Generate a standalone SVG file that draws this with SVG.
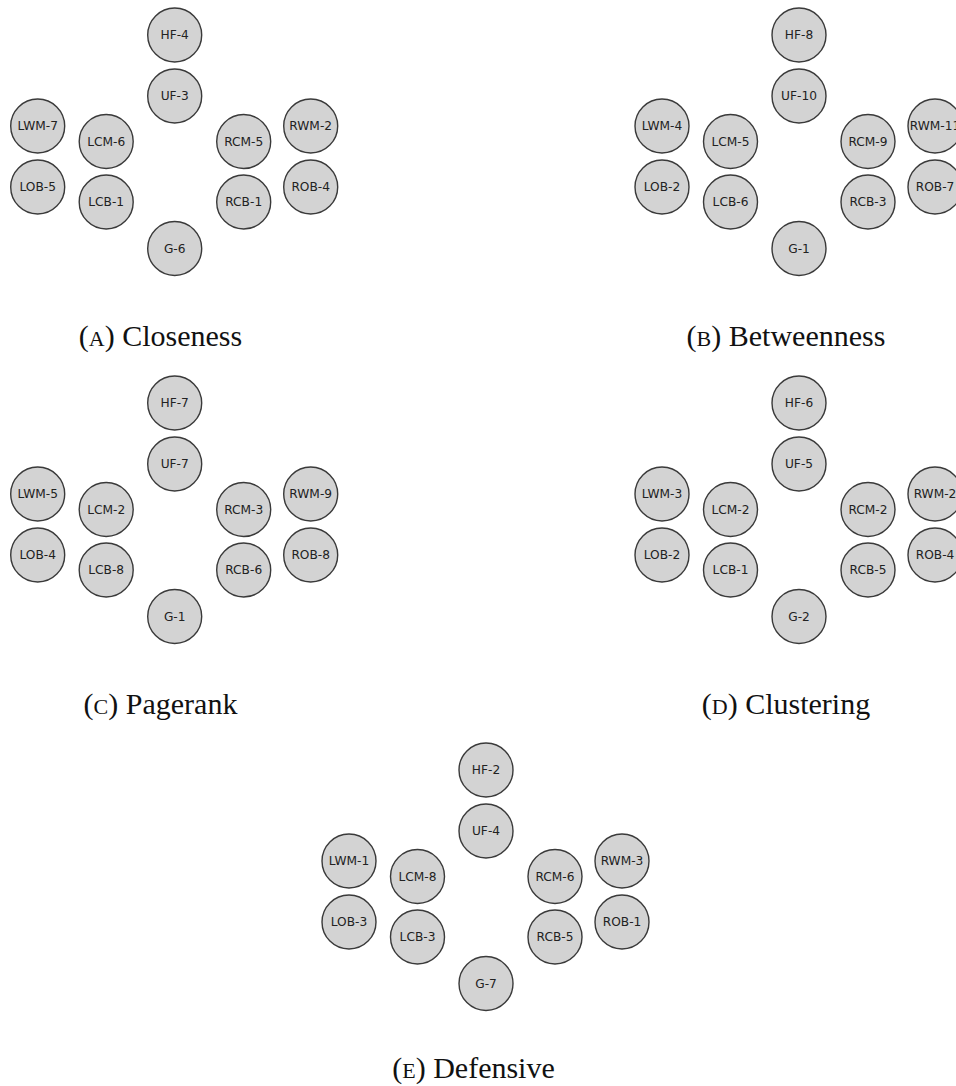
<svg xmlns="http://www.w3.org/2000/svg" width="956" height="1086" viewBox="0 0 956 1086">
<style>
.n circle{fill:#d3d3d3;stroke:#3a3a3a;stroke-width:1.4}
.n text{font-family:"DejaVu Sans",sans-serif;font-size:12.2px;fill:#222;text-anchor:middle}
.cap{font-family:"Liberation Serif",serif;font-size:30px;fill:#111;text-anchor:middle}
.sc{font-size:22px}
</style>
<rect width="956" height="1086" fill="#fff"/>
<g id="connectors"/>
<!-- Panel A -->
<g id="panel-a" transform="translate(174.7,35)">
<g id="a-HF" class="n"><circle cx="0" cy="0" r="27"/><text x="0" y="4.4">HF-4</text></g>
<g id="a-UF" class="n"><circle cx="0" cy="61" r="27"/><text x="0" y="65.4">UF-3</text></g>
<g id="a-LWM" class="n"><circle cx="-137" cy="91" r="27"/><text x="-137" y="95.4">LWM-7</text></g>
<g id="a-LCM" class="n"><circle cx="-68.5" cy="106.5" r="27"/><text x="-68.5" y="110.9">LCM-6</text></g>
<g id="a-RCM" class="n"><circle cx="69" cy="106.5" r="27"/><text x="69" y="110.9">RCM-5</text></g>
<g id="a-RWM" class="n"><circle cx="136" cy="91" r="27"/><text x="136" y="95.4">RWM-2</text></g>
<g id="a-LOB" class="n"><circle cx="-137" cy="152" r="27"/><text x="-137" y="156.4">LOB-5</text></g>
<g id="a-LCB" class="n"><circle cx="-68.5" cy="167" r="27"/><text x="-68.5" y="171.4">LCB-1</text></g>
<g id="a-RCB" class="n"><circle cx="69" cy="167" r="27"/><text x="69" y="171.4">RCB-1</text></g>
<g id="a-ROB" class="n"><circle cx="136" cy="152" r="27"/><text x="136" y="156.4">ROB-4</text></g>
<g id="a-G" class="n"><circle cx="0" cy="213.5" r="27"/><text x="0" y="217.9">G-6</text></g>
</g>
<text id="cap-a" class="cap" x="160.5" y="346">(<tspan class="sc">A</tspan>) Closeness</text>
<!-- Panel B -->
<g id="panel-b" transform="translate(799,35)">
<g id="b-HF" class="n"><circle cx="0" cy="0" r="27"/><text x="0" y="4.4">HF-8</text></g>
<g id="b-UF" class="n"><circle cx="0" cy="61" r="27"/><text x="0" y="65.4">UF-10</text></g>
<g id="b-LWM" class="n"><circle cx="-137" cy="91" r="27"/><text x="-137" y="95.4">LWM-4</text></g>
<g id="b-LCM" class="n"><circle cx="-68.5" cy="106.5" r="27"/><text x="-68.5" y="110.9">LCM-5</text></g>
<g id="b-RCM" class="n"><circle cx="69" cy="106.5" r="27"/><text x="69" y="110.9">RCM-9</text></g>
<g id="b-RWM" class="n"><circle cx="136" cy="91" r="27"/><text x="136" y="95.4">RWM-11</text></g>
<g id="b-LOB" class="n"><circle cx="-137" cy="152" r="27"/><text x="-137" y="156.4">LOB-2</text></g>
<g id="b-LCB" class="n"><circle cx="-68.5" cy="167" r="27"/><text x="-68.5" y="171.4">LCB-6</text></g>
<g id="b-RCB" class="n"><circle cx="69" cy="167" r="27"/><text x="69" y="171.4">RCB-3</text></g>
<g id="b-ROB" class="n"><circle cx="136" cy="152" r="27"/><text x="136" y="156.4">ROB-7</text></g>
<g id="b-G" class="n"><circle cx="0" cy="213.5" r="27"/><text x="0" y="217.9">G-1</text></g>
</g>
<text id="cap-b" class="cap" x="786" y="346">(<tspan class="sc">B</tspan>) Betweenness</text>
<!-- Panel C -->
<g id="panel-c" transform="translate(174.7,403)">
<g id="c-HF" class="n"><circle cx="0" cy="0" r="27"/><text x="0" y="4.4">HF-7</text></g>
<g id="c-UF" class="n"><circle cx="0" cy="61" r="27"/><text x="0" y="65.4">UF-7</text></g>
<g id="c-LWM" class="n"><circle cx="-137" cy="91" r="27"/><text x="-137" y="95.4">LWM-5</text></g>
<g id="c-LCM" class="n"><circle cx="-68.5" cy="106.5" r="27"/><text x="-68.5" y="110.9">LCM-2</text></g>
<g id="c-RCM" class="n"><circle cx="69" cy="106.5" r="27"/><text x="69" y="110.9">RCM-3</text></g>
<g id="c-RWM" class="n"><circle cx="136" cy="91" r="27"/><text x="136" y="95.4">RWM-9</text></g>
<g id="c-LOB" class="n"><circle cx="-137" cy="152" r="27"/><text x="-137" y="156.4">LOB-4</text></g>
<g id="c-LCB" class="n"><circle cx="-68.5" cy="167" r="27"/><text x="-68.5" y="171.4">LCB-8</text></g>
<g id="c-RCB" class="n"><circle cx="69" cy="167" r="27"/><text x="69" y="171.4">RCB-6</text></g>
<g id="c-ROB" class="n"><circle cx="136" cy="152" r="27"/><text x="136" y="156.4">ROB-8</text></g>
<g id="c-G" class="n"><circle cx="0" cy="213.5" r="27"/><text x="0" y="217.9">G-1</text></g>
</g>
<text id="cap-c" class="cap" x="160.5" y="714">(<tspan class="sc">C</tspan>) Pagerank</text>
<!-- Panel D -->
<g id="panel-d" transform="translate(799,403)">
<g id="d-HF" class="n"><circle cx="0" cy="0" r="27"/><text x="0" y="4.4">HF-6</text></g>
<g id="d-UF" class="n"><circle cx="0" cy="61" r="27"/><text x="0" y="65.4">UF-5</text></g>
<g id="d-LWM" class="n"><circle cx="-137" cy="91" r="27"/><text x="-137" y="95.4">LWM-3</text></g>
<g id="d-LCM" class="n"><circle cx="-68.5" cy="106.5" r="27"/><text x="-68.5" y="110.9">LCM-2</text></g>
<g id="d-RCM" class="n"><circle cx="69" cy="106.5" r="27"/><text x="69" y="110.9">RCM-2</text></g>
<g id="d-RWM" class="n"><circle cx="136" cy="91" r="27"/><text x="136" y="95.4">RWM-2</text></g>
<g id="d-LOB" class="n"><circle cx="-137" cy="152" r="27"/><text x="-137" y="156.4">LOB-2</text></g>
<g id="d-LCB" class="n"><circle cx="-68.5" cy="167" r="27"/><text x="-68.5" y="171.4">LCB-1</text></g>
<g id="d-RCB" class="n"><circle cx="69" cy="167" r="27"/><text x="69" y="171.4">RCB-5</text></g>
<g id="d-ROB" class="n"><circle cx="136" cy="152" r="27"/><text x="136" y="156.4">ROB-4</text></g>
<g id="d-G" class="n"><circle cx="0" cy="213.5" r="27"/><text x="0" y="217.9">G-2</text></g>
</g>
<text id="cap-d" class="cap" x="786" y="714">(<tspan class="sc">D</tspan>) Clustering</text>
<!-- Panel E -->
<g id="panel-e" transform="translate(486,770)">
<g id="e-HF" class="n"><circle cx="0" cy="0" r="27"/><text x="0" y="4.4">HF-2</text></g>
<g id="e-UF" class="n"><circle cx="0" cy="61" r="27"/><text x="0" y="65.4">UF-4</text></g>
<g id="e-LWM" class="n"><circle cx="-137" cy="91" r="27"/><text x="-137" y="95.4">LWM-1</text></g>
<g id="e-LCM" class="n"><circle cx="-68.5" cy="106.5" r="27"/><text x="-68.5" y="110.9">LCM-8</text></g>
<g id="e-RCM" class="n"><circle cx="69" cy="106.5" r="27"/><text x="69" y="110.9">RCM-6</text></g>
<g id="e-RWM" class="n"><circle cx="136" cy="91" r="27"/><text x="136" y="95.4">RWM-3</text></g>
<g id="e-LOB" class="n"><circle cx="-137" cy="152" r="27"/><text x="-137" y="156.4">LOB-3</text></g>
<g id="e-LCB" class="n"><circle cx="-68.5" cy="167" r="27"/><text x="-68.5" y="171.4">LCB-3</text></g>
<g id="e-RCB" class="n"><circle cx="69" cy="167" r="27"/><text x="69" y="171.4">RCB-5</text></g>
<g id="e-ROB" class="n"><circle cx="136" cy="152" r="27"/><text x="136" y="156.4">ROB-1</text></g>
<g id="e-G" class="n"><circle cx="0" cy="213.5" r="27"/><text x="0" y="217.9">G-7</text></g>
</g>
<text id="cap-e" class="cap" x="473.5" y="1078">(<tspan class="sc">E</tspan>) Defensive</text>
</svg>
